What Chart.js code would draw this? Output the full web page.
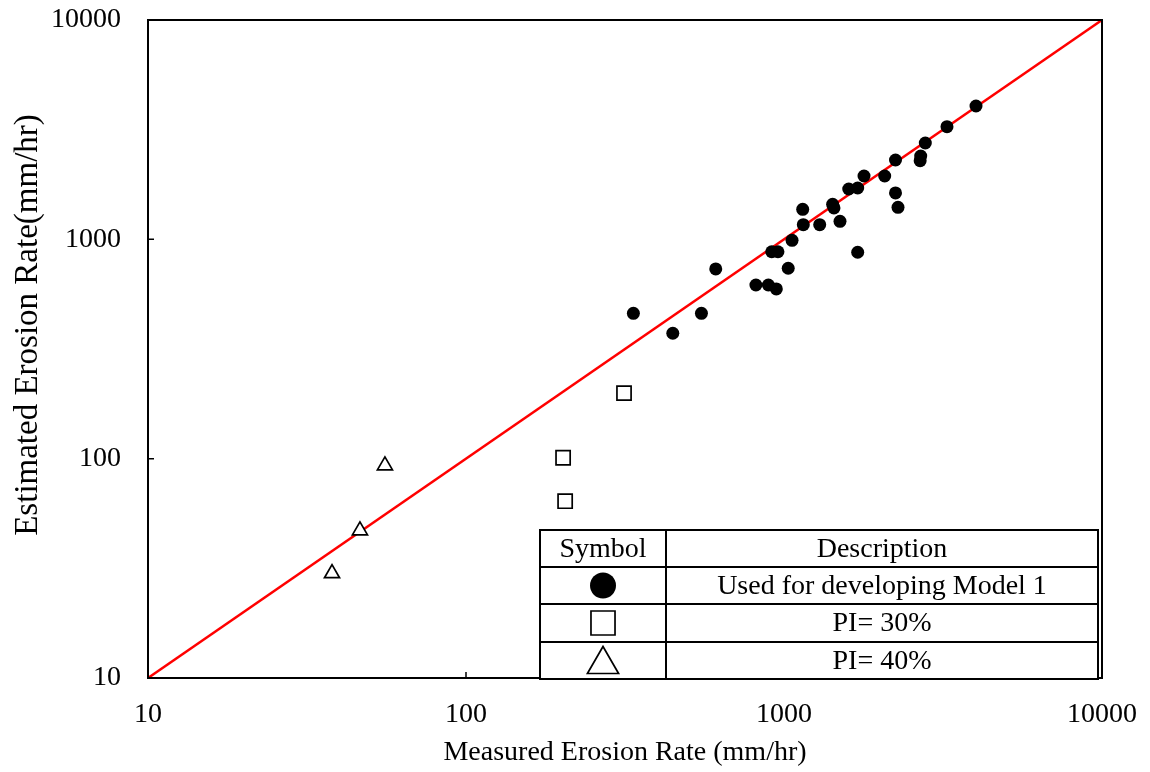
<!DOCTYPE html>
<html>
<head>
<meta charset="utf-8">
<title>Erosion rate</title>
<script src="https://cdn.jsdelivr.net/npm/chart.js@4.4.0/dist/chart.umd.min.js"></script>
<style>
  html, body { margin: 0; padding: 0; background: #fff; }
  #wrap { width: 1150px; height: 772px; }
</style>
</head>
<body>
<div id="wrap"><canvas id="erosionChart"></canvas></div>
<script>
const tickValues = [10, 100, 1000, 10000];

// Model 1 data (measured vs estimated, mm/hr)
const model1Measured = [336, 447, 550, 610, 816, 893, 946, 915, 957, 1031,
  1060, 1145, 1150, 1295, 1422, 1436, 1500, 1598, 1705, 1785,
  1705, 2073, 2242, 2242, 2283, 2691, 2680, 2782, 3255, 4016];
const model1Estimated = [460, 373, 460, 733, 619, 619, 594, 878, 878, 738,
  990, 1370, 1166, 1166, 1444, 1390, 1208, 1696, 1714, 1944,
  873, 1944, 2300, 1627, 1400, 2399, 2283, 2749, 3262, 4055];

const pi30Measured = [314, 202, 205];
const pi30Estimated = [199, 101, 64];

const pi40Measured = [55.6, 46.4, 37.9];
const pi40Estimated = [93, 47, 30];

const equalityLine = [10, 10000];

const legendHeader = ['Symbol', 'Description'];
const legendSymbols = ['circle', 'rect', 'triangle'];
const legendText = ['Used for developing Model 1', 'PI= 30%', 'PI= 40%'];

const serif = "'Liberation Serif', 'Times New Roman', serif";

function toPoints(xs, ys) {
  return xs.map((x, i) => ({ x: x, y: ys[i] }));
}

// box round the plot, small inward ticks, y title and the symbol table
const framePlugin = {
  id: 'framePlugin',
  afterDatasetsDraw(chart) {
    const ctx = chart.ctx;
    const a = chart.chartArea;
    const xs = chart.scales.x, ys = chart.scales.y;
    ctx.save();
    ctx.strokeStyle = '#000';
    ctx.lineWidth = 2;
    ctx.strokeRect(a.left, a.top, a.right - a.left, a.bottom - a.top);
    ctx.lineWidth = 1.5;
    ctx.beginPath();
    tickValues.slice(1, -1).forEach(v => {
      const px = xs.getPixelForValue(v);
      ctx.moveTo(px, a.bottom);
      ctx.lineTo(px, a.bottom - 6);
      const py = ys.getPixelForValue(v);
      ctx.moveTo(a.left, py);
      ctx.lineTo(a.left + 6, py);
    });
    ctx.stroke();
    ctx.restore();
  },
  afterDraw(chart) {
    const ctx = chart.ctx;
    ctx.save();

    // y axis title
    ctx.translate(28, 325);
    ctx.rotate(-Math.PI / 2);
    ctx.font = '33px ' + serif;
    ctx.fillStyle = '#000';
    ctx.textAlign = 'center';
    ctx.textBaseline = 'middle';
    ctx.fillText('Estimated Erosion Rate(mm/hr)', 0, 0);
    ctx.restore();

    // symbol table
    const colX = [540, 666, 1098];
    const rowY = [530, 567, 604, 642, 679];
    ctx.save();
    ctx.fillStyle = '#fff';
    ctx.fillRect(colX[0], rowY[0], colX[2] - colX[0], rowY[4] - rowY[0]);
    ctx.strokeStyle = '#000';
    ctx.lineWidth = 2;
    ctx.strokeRect(colX[0], rowY[0], colX[2] - colX[0], rowY[4] - rowY[0]);
    ctx.beginPath();
    for (let i = 1; i < rowY.length - 1; i++) {
      ctx.moveTo(colX[0], rowY[i]);
      ctx.lineTo(colX[2], rowY[i]);
    }
    ctx.moveTo(colX[1], rowY[0]);
    ctx.lineTo(colX[1], rowY[4]);
    ctx.stroke();

    ctx.fillStyle = '#000';
    ctx.font = '28px ' + serif;
    ctx.textAlign = 'center';
    ctx.textBaseline = 'middle';
    const c1 = (colX[0] + colX[1]) / 2, c2 = (colX[1] + colX[2]) / 2;
    ctx.fillText(legendHeader[0], c1, (rowY[0] + rowY[1]) / 2 + 1);
    ctx.fillText(legendHeader[1], c2, (rowY[0] + rowY[1]) / 2 + 1);

    const symStyle = {
      circle: { radius: 13, fill: '#000', y: 0 },
      rect: { radius: 17, fill: '#fff', y: 0 },
      triangle: { radius: 18, fill: '#fff', y: 4 }
    };
    legendSymbols.forEach((s, i) => {
      const cy = (rowY[i + 1] + rowY[i + 2]) / 2;
      ctx.fillStyle = '#000';
      ctx.fillText(legendText[i], c2, cy + 1);
      const st = symStyle[s];
      ctx.fillStyle = st.fill;
      ctx.strokeStyle = '#000';
      ctx.lineWidth = 1.7;
      Chart.helpers.drawPoint(ctx, {
        pointStyle: s, radius: st.radius, rotation: 0,
        borderWidth: s === 'circle' ? 0 : 1.7
      }, c1, cy + st.y);
    });
    ctx.restore();
  }
};

new Chart(document.getElementById('erosionChart'), {
  type: 'scatter',
  data: {
    datasets: [
      {
        label: 'Used for developing Model 1',
        data: toPoints(model1Measured, model1Estimated),
        pointStyle: 'circle',
        pointRadius: 6.5,
        backgroundColor: '#000',
        borderColor: '#000',
        borderWidth: 0
      },
      {
        label: 'PI= 30%',
        data: toPoints(pi30Measured, pi30Estimated),
        pointStyle: 'rect',
        pointRadius: 10,
        backgroundColor: '#fff',
        borderColor: '#000',
        borderWidth: 1.7
      },
      {
        label: 'PI= 40%',
        data: toPoints(pi40Measured, pi40Estimated),
        pointStyle: 'triangle',
        pointRadius: 8.7,
        backgroundColor: '#fff',
        borderColor: '#000',
        borderWidth: 1.7
      },
      {
        type: 'line',
        label: '1:1',
        data: toPoints(equalityLine, equalityLine),
        borderColor: '#ff0000',
        borderWidth: 2.5,
        pointRadius: 0,
        fill: false
      }
    ]
  },
  options: {
    responsive: true,
    maintainAspectRatio: false,
    animation: false,
    layout: { padding: { top: 20, right: 48, bottom: 0, left: 0 } },
    plugins: {
      legend: { display: false },
      tooltip: { enabled: false }
    },
    scales: {
      x: {
        type: 'logarithmic',
        min: 10,
        max: 10000,
        afterBuildTicks: s => { s.ticks = tickValues.map(v => ({ value: v })); },
        afterFit: s => { s.height = 94; s.paddingLeft = 0; s.paddingRight = 0; },
        grid: { display: false, drawTicks: false },
        border: { display: false },
        ticks: {
          color: '#000',
          font: { family: serif, size: 28 },
          padding: 20,
          maxRotation: 0,
          callback: v => String(v)
        },
        title: {
          display: true,
          text: 'Measured Erosion Rate (mm/hr)',
          color: '#000',
          font: { family: serif, size: 28 },
          padding: { top: 0, bottom: 3 }
        }
      },
      y: {
        type: 'logarithmic',
        min: 10,
        max: 10000,
        afterBuildTicks: s => { s.ticks = tickValues.map(v => ({ value: v })); },
        afterFit: s => { s.width = 148; s.paddingTop = 0; s.paddingBottom = 0; },
        grid: { display: false, drawTicks: false },
        border: { display: false },
        ticks: {
          color: '#000',
          font: { family: serif, size: 28 },
          padding: 27,
          callback: v => String(v)
        }
      }
    }
  },
  plugins: [framePlugin]
});
</script>
</body>
</html>
